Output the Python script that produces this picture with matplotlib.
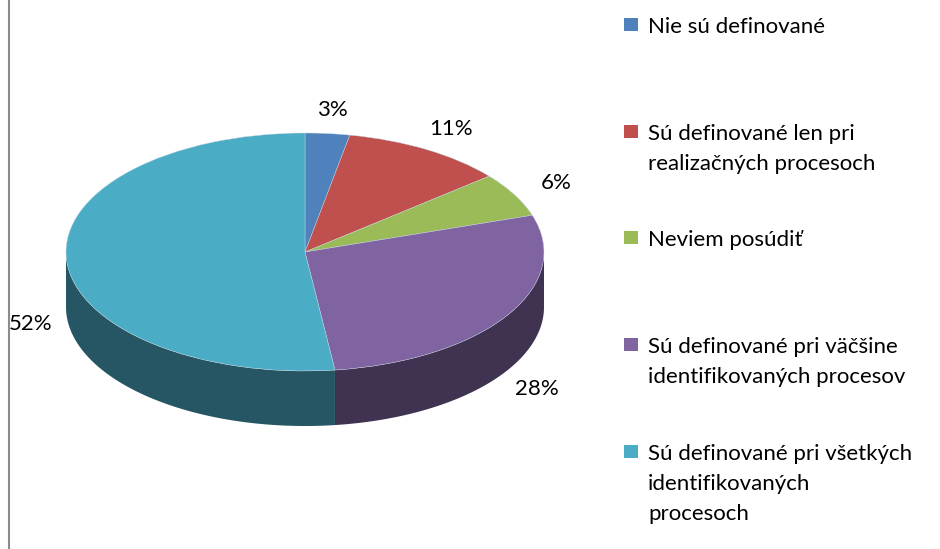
import numpy as np
import matplotlib.pyplot as plt
from matplotlib.patches import Wedge, Polygon, Rectangle
from matplotlib.transforms import Affine2D

plt.rcParams['font.family'] = ['Lato', 'DejaVu Sans']

# data
categories = [
    'Nie sú definované',
    'Sú definované len pri\nrealizačných procesoch',
    'Neviem posúdiť',
    'Sú definované pri väčšine\nidentifikovaných procesov',
    'Sú definované pri všetkých\nidentifikovaných\nprocesoch',
]
shares = [3, 11, 6, 28, 52]
pct_labels = ['3%', '11%', '6%', '28%', '52%']
top_colors = ['#4F81BD', '#C0504D', '#9BBB59', '#8064A2', '#4BACC6']

fig = plt.figure(figsize=(9.4, 5.49), dpi=100)
ax = fig.add_axes([0, 0, 1, 1])
ax.set_xlim(0, 940)
ax.set_ylim(549, 0)
ax.axis('off')

# pie geometry (pixel space)
cx, cy, rx, ry, depth = 305, 252, 239, 119, 55
ellipse = Affine2D().scale(rx, -ry).translate(cx, cy) + ax.transData

cum = np.concatenate([[0], np.cumsum(shares)]) / sum(shares) * 360

def darker(c, f=0.5):
    r, g, b = [int(c[k:k + 2], 16) for k in (1, 3, 5)]
    return (r / 255 * f, g / 255 * f, b / 255 * f)

for i, col in enumerate(top_colors):
    t1 = 90 - cum[i + 1]
    t2 = 90 - cum[i]
    # front side of the slice
    t = np.radians(np.linspace(t1, t2, 400))
    t = t[np.sin(t) <= 0]
    if len(t) > 1:
        xs = cx + rx * np.cos(t)
        ys = cy - ry * np.sin(t)
        pts = np.column_stack([np.r_[xs, xs[::-1]], np.r_[ys, ys[::-1] + depth]])
        ax.add_patch(Polygon(pts, closed=True, facecolor=darker(col), edgecolor='none', zorder=1))
    # top face
    ax.add_patch(Wedge((0, 0), 1, t1, t2, facecolor=col, edgecolor='#c8d6e2',
                       linewidth=0.3, transform=ellipse, zorder=2))
    # percent label
    mid = np.radians(90 - (cum[i] + cum[i + 1]) / 2)
    if np.sin(mid) < 0:
        lx = cx + 1.15 * rx * np.cos(mid)
        ly = cy - 1.15 * ry * np.sin(mid) + 1.15 * depth
    else:
        lx = cx + 1.2 * rx * np.cos(mid)
        ly = cy - 1.2 * ry * np.sin(mid)
    ax.text(lx, ly, pct_labels[i], ha='center', va='center', fontsize=16, color='black', zorder=3)

# legend
for i, lab in enumerate(categories):
    y0 = 25 + i * 106.7
    ax.add_patch(Rectangle((624, y0 - 7), 14, 13, facecolor=top_colors[i], edgecolor='none'))
    for j, line in enumerate(lab.split('\n')):
        ax.text(648, y0 + j * 30, line, ha='left', va='center_baseline', fontsize=16, color='black')

# left border line
ax.plot([8.5, 8.5], [0, 549], color='#8c8c8c', lw=1.5)

fig.savefig('out.png', dpi=100)
plt.close()
